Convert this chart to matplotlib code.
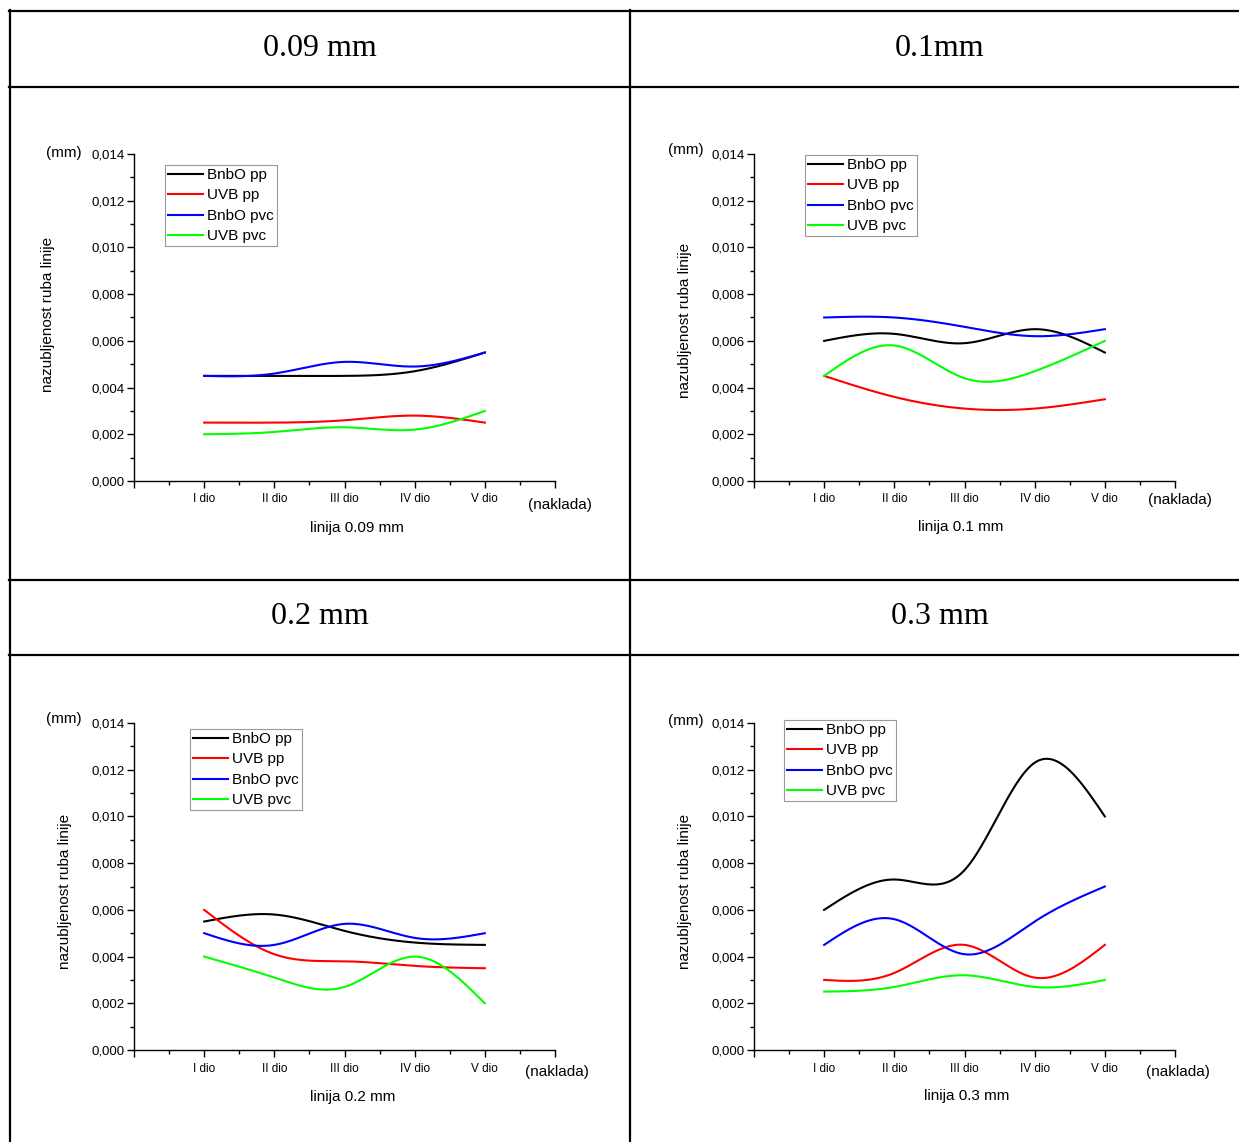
import numpy as np
import matplotlib
matplotlib.use("Agg")
import matplotlib.pyplot as plt
from matplotlib.lines import Line2D
from matplotlib.ticker import FuncFormatter, MultipleLocator, FixedLocator

plt.rcParams['font.family'] = ['Liberation Sans', 'DejaVu Sans']

W, H = 1239, 1142

# data
parts = ["I dio", "II dio", "III dio", "IV dio", "V dio"]
series_names = ["BnbO pp", "UVB pp", "BnbO pvc", "UVB pvc"]
series_colors = ["#000000", "#ff0000", "#0000ff", "#00ff00"]
titles = ["0.09 mm", "0.1mm", "0.2 mm", "0.3 mm"]
line_labels = ["linija 0.09 mm", "linija 0.1 mm", "linija 0.2 mm", "linija 0.3 mm"]

bnbo_pp_009 = [0.0045, 0.0045, 0.0045, 0.0047, 0.0055]
uvb_pp_009 = [0.0025, 0.0025, 0.0026, 0.0028, 0.0025]
bnbo_pvc_009 = [0.0045, 0.0046, 0.0051, 0.0049, 0.0055]
uvb_pvc_009 = [0.0020, 0.0021, 0.0023, 0.0022, 0.0030]

bnbo_pp_01 = [0.0060, 0.0063, 0.0059, 0.0065, 0.0055]
uvb_pp_01 = [0.0045, 0.0036, 0.0031, 0.0031, 0.0035]
bnbo_pvc_01 = [0.0070, 0.0070, 0.0066, 0.0062, 0.0065]
uvb_pvc_01 = [0.0045, 0.0058, 0.0044, 0.0047, 0.0060]

bnbo_pp_02 = [0.0055, 0.0058, 0.0051, 0.0046, 0.0045]
uvb_pp_02 = [0.0060, 0.0041, 0.0038, 0.0036, 0.0035]
bnbo_pvc_02 = [0.0050, 0.0045, 0.0054, 0.0048, 0.0050]
uvb_pvc_02 = [0.0040, 0.0031, 0.0027, 0.0040, 0.0020]

bnbo_pp_03 = [0.0060, 0.0073, 0.0077, 0.0123, 0.0100]
uvb_pp_03 = [0.0030, 0.0033, 0.0045, 0.0031, 0.0045]
bnbo_pvc_03 = [0.0045, 0.0056, 0.0041, 0.0055, 0.0070]
uvb_pvc_03 = [0.0025, 0.0027, 0.0032, 0.0027, 0.0030]

panels = [
    [bnbo_pp_009, uvb_pp_009, bnbo_pvc_009, uvb_pvc_009],
    [bnbo_pp_01, uvb_pp_01, bnbo_pvc_01, uvb_pvc_01],
    [bnbo_pp_02, uvb_pp_02, bnbo_pvc_02, uvb_pvc_02],
    [bnbo_pp_03, uvb_pp_03, bnbo_pvc_03, uvb_pvc_03],
]


def spline(x, y, n=300):
    """Natural cubic spline through the points (like Origin's spline line)."""
    x = np.asarray(x, float)
    y = np.asarray(y, float)
    k = len(x)
    h = np.diff(x)
    A = np.zeros((k, k))
    r = np.zeros(k)
    A[0, 0] = A[-1, -1] = 1
    for i in range(1, k - 1):
        A[i, i - 1] = h[i - 1]
        A[i, i] = 2 * (h[i - 1] + h[i])
        A[i, i + 1] = h[i]
        r[i] = 3 * ((y[i + 1] - y[i]) / h[i] - (y[i] - y[i - 1]) / h[i - 1])
    c = np.linalg.solve(A, r)
    b = (y[1:] - y[:-1]) / h - h * (2 * c[:-1] + c[1:]) / 3
    d = (c[1:] - c[:-1]) / (3 * h)
    xs = np.linspace(x[0], x[-1], n)
    idx = np.clip(np.searchsorted(x, xs, side='right') - 1, 0, k - 2)
    t = xs - x[idx]
    ys = y[idx] + b[idx] * t + c[idx] * t ** 2 + d[idx] * t ** 3
    return xs, ys


def fx(px):
    return px / W


def fy(py):
    return 1 - py / H


fig = plt.figure(figsize=(W / 100, H / 100), dpi=100)

# table grid
for y0 in [11, 87, 580, 655]:
    fig.add_artist(Line2D([fx(9), fx(W)], [fy(y0), fy(y0)], color='black', lw=1.6))
for x0 in [10, 630]:
    fig.add_artist(Line2D([fx(x0), fx(x0)], [fy(10), fy(H)], color='black', lw=1.6))

title_pos = [(320, 48), (940, 48), (320, 617), (940, 617)]
for t, (tx, ty) in zip(titles, title_pos):
    fig.text(fx(tx), fy(ty), t, ha='center', va='center', fontsize=23,
             family='Liberation Serif')

# axes boxes in pixels: left, top, right, bottom
boxes = [(134, 154, 555, 481), (754, 154, 1175, 481),
         (134, 723, 555, 1050), (754, 723, 1175, 1050)]
legend_pos = [(165, 165), (805, 155), (190, 729), (784, 720)]
ylabel_pos = [(48, 314), (685, 320), (65, 891), (685, 891)]
mm_pos = [(64, 153), (686, 150), (64, 719), (686, 721)]
naklada_pos = [(560, 505), (1180, 500), (557, 1072), (1178, 1072)]
linija_pos = [(357, 528), (961, 527), (353, 1097), (967, 1096)]

xpos = np.arange(1, len(parts) + 1)

for p in range(4):
    l, t, r, b = boxes[p]
    ax = fig.add_axes([fx(l), fy(b), (r - l) / W, (b - t) / H])
    for vals, name, col in zip(panels[p], series_names, series_colors):
        xs, ys = spline(xpos, vals)
        ax.plot(xs, ys, color=col, lw=1.5, label=name)
    ax.set_xlim(0, 6)
    ax.set_ylim(0, 0.014)
    for s in ['top', 'right']:
        ax.spines[s].set_visible(False)
    for s in ['left', 'bottom']:
        ax.spines[s].set_linewidth(1.0)
    ax.xaxis.set_major_locator(FixedLocator(range(0, 7)))
    ax.xaxis.set_minor_locator(MultipleLocator(0.5))
    ax.set_xticklabels([""] + parts + [""])
    ax.yaxis.set_major_locator(MultipleLocator(0.002))
    ax.yaxis.set_minor_locator(MultipleLocator(0.001))
    ax.yaxis.set_major_formatter(FuncFormatter(lambda v, _: f"{v:.3f}".replace('.', ',')))
    ax.tick_params(which='major', direction='out', length=5, width=1.0)
    ax.tick_params(which='minor', direction='out', length=3, width=1.0)
    ax.tick_params(axis='x', labelsize=8.5, pad=4)
    ax.tick_params(axis='y', labelsize=9.5, pad=2)

    lx, ly = legend_pos[p]
    leg = ax.legend(loc='upper left', bbox_to_anchor=(fx(lx), fy(ly)),
                    bbox_transform=fig.transFigure, fontsize=11, frameon=True,
                    fancybox=False, framealpha=1, edgecolor='#999999',
                    borderaxespad=0, borderpad=0.2, labelspacing=0.42,
                    handlelength=2.3, handletextpad=0.25)
    leg.get_frame().set_linewidth(0.8)

    yx, yy = ylabel_pos[p]
    fig.text(fx(yx), fy(yy), "nazubljenost ruba linije", rotation=90,
             ha='center', va='center', fontsize=11)
    mx, my = mm_pos[p]
    fig.text(fx(mx), fy(my), "(mm)", ha='center', va='center', fontsize=11)
    nx, ny = naklada_pos[p]
    fig.text(fx(nx), fy(ny), "(naklada)", ha='center', va='center', fontsize=11)
    kx, ky = linija_pos[p]
    fig.text(fx(kx), fy(ky), line_labels[p], ha='center', va='center', fontsize=11)

fig.savefig("out.png", dpi=100)
